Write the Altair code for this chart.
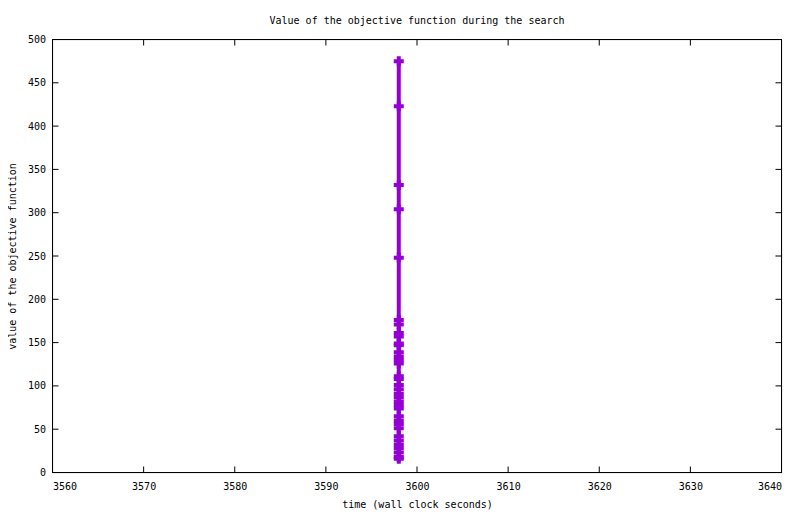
import altair as alt
import pandas as pd

# Data
times = [3598] * 35
values = [475, 423, 332, 304, 248, 176, 171, 161, 157, 149, 147, 139, 134, 130, 126,
          111, 108, 101, 96, 91, 87, 82, 78, 74, 65, 60, 56, 51, 42, 37, 32, 28, 23, 18, 16]
x_ticks = [3560, 3570, 3580, 3590, 3600, 3610, 3620, 3630, 3640]
y_ticks = [0, 50, 100, 150, 200, 250, 300, 350, 400, 450, 500]

FONT = "DejaVu Sans Mono"
COLOR = "#9400D3"
W, H = 729, 433

df = pd.DataFrame({"t": times, "v": values, "i": list(range(len(values)))})
xt = pd.DataFrame({"x": x_ticks})
yt = pd.DataFrame({"y": y_ticks})

xscale = alt.Scale(domain=[3560, 3640], nice=False, zero=False)
yscale = alt.Scale(domain=[0, 500], nice=False)

xaxis = alt.Axis(values=x_ticks, domain=False, ticks=False, grid=False, labelFont=FONT,
                 labelFontSize=10, labelColor="black", labelPadding=9,
                 title="time (wall clock seconds)", titleFont=FONT, titleFontSize=10,
                 titleFontWeight="normal", titleColor="black", titlePadding=8, format="d")
yaxis = alt.Axis(values=y_ticks, domain=False, ticks=False, grid=False, labelFont=FONT,
                 labelFontSize=10, labelColor="black", labelPadding=7,
                 title="value of the objective function", titleFont=FONT, titleFontSize=10,
                 titleFontWeight="normal", titleColor="black", titlePadding=10, format="d")

line = alt.Chart(df).mark_line(color=COLOR, strokeWidth=4, strokeCap="butt").encode(
    x=alt.X("t:Q", scale=xscale, axis=xaxis),
    y=alt.Y("v:Q", scale=yscale, axis=yaxis),
    order="i:O",
)

plus = "M-1,-0.4H1V0.4H-1Z M-0.4,-1H0.4V1H-0.4Z"
points = alt.Chart(df).mark_point(shape=plus, filled=True, color=COLOR, size=100, opacity=1,
                                  strokeWidth=0).encode(
    x=alt.X("t:Q", scale=xscale),
    y=alt.Y("v:Q", scale=yscale),
)

xb = alt.Chart(xt).mark_rule(color="black", strokeWidth=1).encode(
    x=alt.X("x:Q", scale=xscale), y=alt.value(H), y2=alt.value(H - 6))
xtop = alt.Chart(xt).mark_rule(color="black", strokeWidth=1).encode(
    x=alt.X("x:Q", scale=xscale), y=alt.value(0), y2=alt.value(6))
yl = alt.Chart(yt).mark_rule(color="black", strokeWidth=1).encode(
    y=alt.Y("y:Q", scale=yscale), x=alt.value(0), x2=alt.value(6))
yr = alt.Chart(yt).mark_rule(color="black", strokeWidth=1).encode(
    y=alt.Y("y:Q", scale=yscale), x=alt.value(W), x2=alt.value(W - 6))

frame_top = alt.Chart(xt).mark_rule(color="black", strokeWidth=1).encode(
    x=alt.value(0), x2=alt.value(W), y=alt.value(0))
frame_bot = alt.Chart(xt).mark_rule(color="black", strokeWidth=1).encode(
    x=alt.value(0), x2=alt.value(W), y=alt.value(H))
frame_left = alt.Chart(xt).mark_rule(color="black", strokeWidth=1).encode(
    y=alt.value(0), y2=alt.value(H), x=alt.value(0))
frame_right = alt.Chart(xt).mark_rule(color="black", strokeWidth=1).encode(
    y=alt.value(0), y2=alt.value(H), x=alt.value(W))

chart = alt.layer(frame_top, frame_bot, frame_left, frame_right,
                  xb, xtop, yl, yr, line, points).properties(
    width=W, height=H,
    title=alt.TitleParams("Value of the objective function during the search", font=FONT,
                          fontSize=10, fontWeight="normal", color="black", offset=9,
                          anchor="middle"),
    autosize=alt.AutoSizeParams(type="none"),
    padding={"left": 44.5, "top": 31.5, "right": 10, "bottom": 40},
).configure_view(stroke="transparent", strokeWidth=0).configure(background="white")

chart.save("out.html", embed_options={"renderer": "svg", "actions": False})
